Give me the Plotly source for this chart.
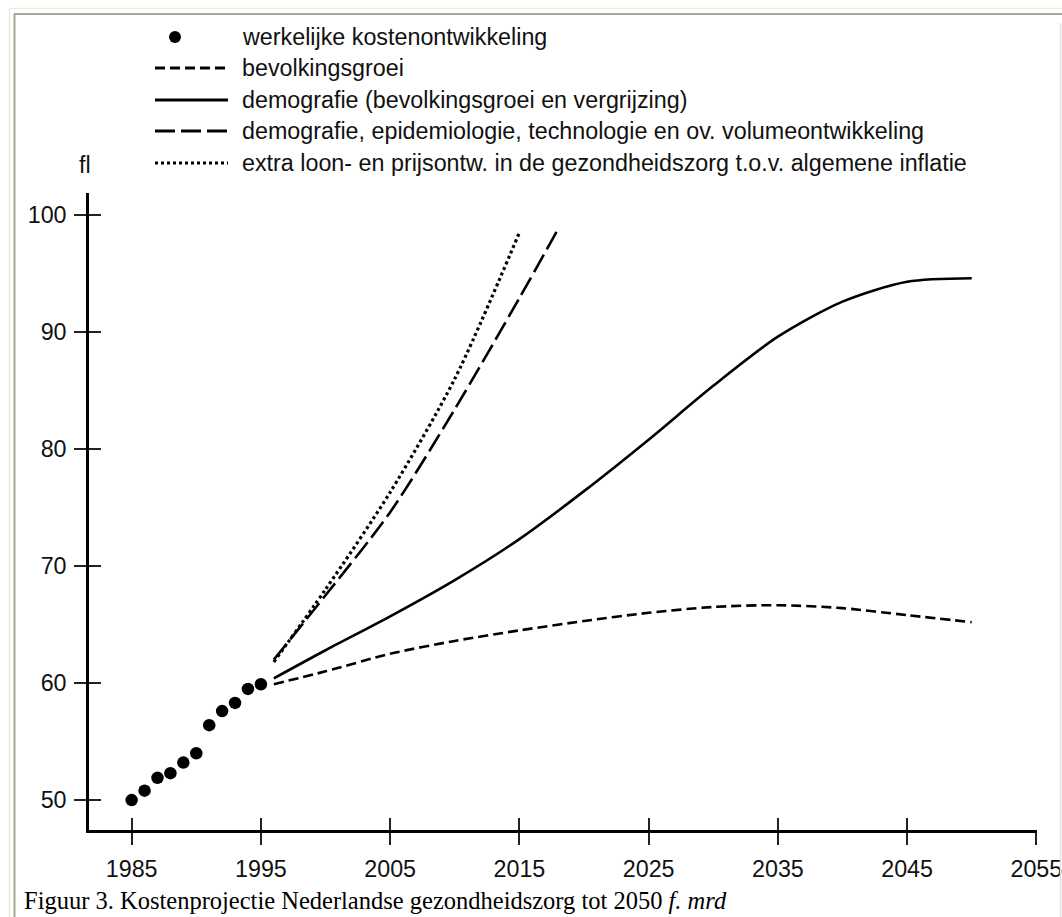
import plotly.graph_objects as go

# ---------------- data ----------------
years_actual = [1985, 1986, 1987, 1988, 1989, 1990, 1991, 1992, 1993, 1994, 1995]
werkelijk = [50.0, 50.8, 51.9, 52.3, 53.2, 54.0, 56.4, 57.6, 58.3, 59.5, 59.9]

years_proj = [1996, 2000, 2005, 2010, 2015, 2020, 2025, 2030, 2035, 2040, 2045, 2050]
bevolkingsgroei = [59.9, 61.0, 62.5, 63.6, 64.5, 65.3, 66.0, 66.5, 66.65, 66.4, 65.8, 65.2]
demografie = [60.4, 62.8, 65.7, 68.8, 72.3, 76.4, 80.8, 85.4, 89.6, 92.6, 94.3, 94.6]

years_volume = [1996, 2000, 2005, 2010, 2015, 2018]
volume = [62.0, 67.5, 74.6, 83.4, 92.9, 98.8]

years_prijs = [1996, 2000, 2005, 2010, 2015]
prijs = [61.8, 68.0, 76.3, 86.0, 98.5]

x_ticks = [1985, 1995, 2005, 2015, 2025, 2035, 2045, 2055]
y_ticks = [50, 60, 70, 80, 90, 100]

legend_labels = [
    "werkelijke kostenontwikkeling",
    "bevolkingsgroei",
    "demografie (bevolkingsgroei en vergrijzing)",
    "demografie, epidemiologie, technologie en ov. volumeontwikkeling",
    "extra loon- en prijsontw. in de gezondheidszorg t.o.v. algemene inflatie",
]
y_unit = "fl"
caption = "Figuur 3. Kostenprojectie Nederlandse gezondheidszorg tot 2050 <i>f. mrd</i>"

# ---------------- layout geometry (pixels) ----------------
W, H = 1062, 917
L, R, T, B = 89, 25, 193, 87
PW, PH = W - L - R, H - T - B
X_RANGE = [1981.7, 2055.05]
Y_RANGE = [47.44, 101.88]

SANS = "Liberation Sans, Arial, Helvetica, sans-serif"
SERIF = "Liberation Serif, Times New Roman, serif"
TXT = 23.3


def px(x):
    return (x - L) / PW


def py(y):
    return (H - B - y) / PH


fig = go.Figure()

line_w = 2.6
fig.add_trace(go.Scatter(x=years_proj, y=bevolkingsgroei, mode="lines",
                         line=dict(color="black", width=line_w, dash="10px,5px", shape="spline", smoothing=0.8),
                         showlegend=False, hoverinfo="skip"))
fig.add_trace(go.Scatter(x=years_proj, y=demografie, mode="lines",
                         line=dict(color="black", width=line_w, shape="spline", smoothing=0.8),
                         showlegend=False, hoverinfo="skip"))
fig.add_trace(go.Scatter(x=years_volume, y=volume, mode="lines",
                         line=dict(color="black", width=line_w, dash="20px,6px", shape="spline", smoothing=0.8),
                         showlegend=False, hoverinfo="skip"))
fig.add_trace(go.Scatter(x=years_prijs, y=prijs, mode="lines",
                         line=dict(color="black", width=3.2, dash="3px,3px", shape="spline", smoothing=0.8),
                         showlegend=False, hoverinfo="skip"))
fig.add_trace(go.Scatter(x=years_actual, y=werkelijk, mode="markers",
                         marker=dict(color="black", size=12.5),
                         showlegend=False, hoverinfo="skip"))
# dummy trace for overlaid axes (inner halves of the crossing tick marks)
fig.add_trace(go.Scatter(x=[], y=[], xaxis="x2", yaxis="y2", showlegend=False, hoverinfo="skip"))

axis_font = dict(family=SANS, size=TXT, color="#111")
fig.update_layout(
    width=W, height=H,
    margin=dict(l=L, r=R, t=T, b=B, autoexpand=False),
    paper_bgcolor="white", plot_bgcolor="white",
    xaxis=dict(range=X_RANGE, tickvals=x_ticks, ticks="outside", ticklen=12, tickwidth=2,
               tickcolor="#222", showline=True, linewidth=2.5, linecolor="black",
               showgrid=False, zeroline=False, tickfont=axis_font, automargin=False,
               ticklabelstandoff=4, ticklabeloverflow="allow"),
    yaxis=dict(range=Y_RANGE, tickvals=y_ticks, ticks="outside", ticklen=12, tickwidth=2,
               tickcolor="#222", showline=True, linewidth=2.5, linecolor="black",
               showgrid=False, zeroline=False, tickfont=axis_font, automargin=False,
               ticklabelstandoff=3, ticklabeloverflow="allow"),
    xaxis2=dict(range=X_RANGE, tickvals=x_ticks, ticks="inside", ticklen=12, tickwidth=2,
                tickcolor="#222", overlaying="x", anchor="y2", showline=False,
                showticklabels=False, showgrid=False, zeroline=False, automargin=False),
    yaxis2=dict(range=Y_RANGE, tickvals=y_ticks, ticks="inside", ticklen=12, tickwidth=2,
                tickcolor="#222", overlaying="y", anchor="x2", showline=False,
                showticklabels=False, showgrid=False, zeroline=False, automargin=False),
    showlegend=False,
)

# ---------------- manual legend ----------------
row_y = [37, 68, 100, 131, 163]
key_x0, key_x1, text_x = 155, 228, 240
legend_dash = [None, "10px,5px", "solid", "20px,6px", "3px,3px"]
shapes = []
for i, label in enumerate(legend_labels):
    yy = py(row_y[i])
    if i == 0:
        shapes.append(dict(type="circle", xref="paper", yref="paper",
                           x0=px(175 - 6), x1=px(175 + 6), y0=py(row_y[i] + 6), y1=py(row_y[i] - 6),
                           fillcolor="black", line=dict(width=0)))
    else:
        shapes.append(dict(type="line", xref="paper", yref="paper",
                           x0=px(key_x0), x1=px(key_x1), y0=yy, y1=yy,
                           line=dict(color="black", width=3, dash=legend_dash[i])))
    fig.add_annotation(x=px(text_x), y=yy, xref="paper", yref="paper", text=label,
                       showarrow=False, xanchor="left", yanchor="middle",
                       font=dict(family=SANS, size=TXT, color="#111"))

fig.add_annotation(x=px(85), y=py(165), xref="paper", yref="paper", text=y_unit,
                   showarrow=False, xanchor="center", yanchor="middle",
                   font=dict(family=SANS, size=TXT, color="#111"))

fig.add_annotation(x=px(22), y=py(900), xref="paper", yref="paper", text=caption,
                   showarrow=False, xanchor="left", yanchor="middle",
                   font=dict(family=SERIF, size=24.5, color="black"))

# ---------------- page frame ----------------
shapes += [
    dict(type="line", xref="paper", yref="paper", x0=px(9.5), x1=px(W), y0=py(8.5), y1=py(8.5),
         line=dict(color="#efead8", width=1.5)),
    dict(type="line", xref="paper", yref="paper", x0=px(9.5), x1=px(9.5), y0=py(8.5), y1=py(H),
         line=dict(color="#efead8", width=1.5)),
    dict(type="line", xref="paper", yref="paper", x0=px(14), x1=px(W), y0=py(14), y1=py(14),
         line=dict(color="#a6a69c", width=2)),
    dict(type="line", xref="paper", yref="paper", x0=px(14.5), x1=px(14.5), y0=py(14), y1=py(H),
         line=dict(color="#a6a69c", width=2)),
    dict(type="line", xref="paper", yref="paper", x0=px(1060.5), x1=px(1060.5), y0=py(23), y1=py(H),
         line=dict(color="#e2e2e2", width=1.5)),
]
fig.update_layout(shapes=shapes)

fig.write_html("out.html", config={"displayModeBar": False},
               post_script="document.body.style.margin='0';document.body.style.padding='0';")
